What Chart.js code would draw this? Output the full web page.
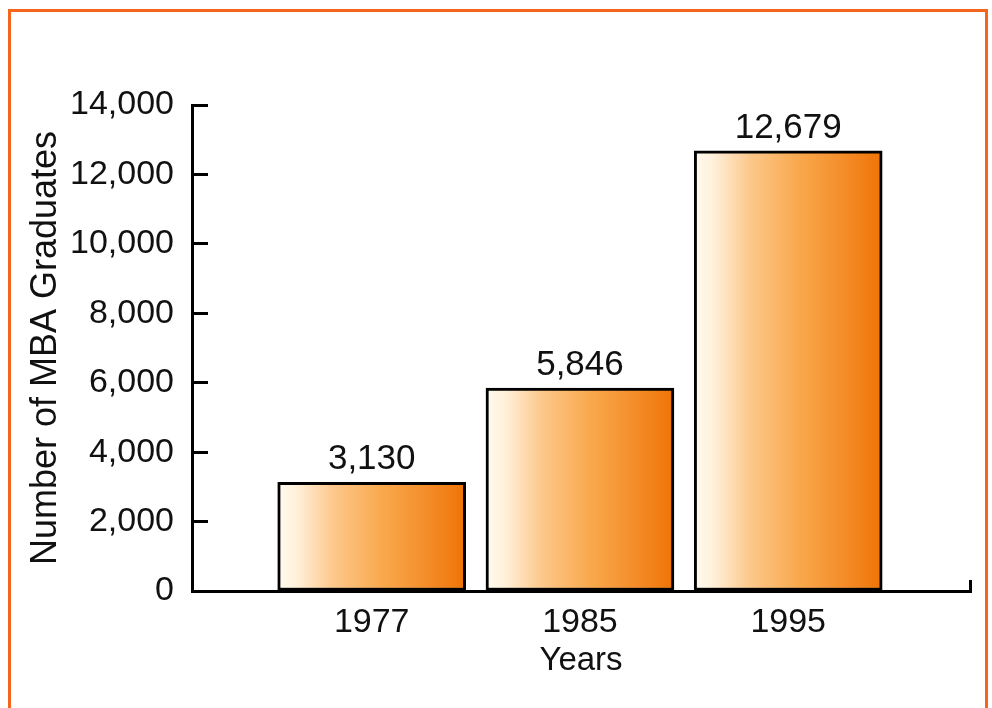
<!DOCTYPE html>
<html lang="en">
<head>
    <meta charset="UTF-8">
    <title>Number of MBA Graduates</title>
    <script src="https://cdn.jsdelivr.net/npm/chart.js"></script>
    <style>
        html, body {
            margin: 0;
            padding: 0;
            background: #fff;
        }

        /* Orange frame, open at the bottom */
        .frame {
            position: relative;
            width: 992px;
            height: 708px;
            overflow: hidden;
        }

        .frame::before {
            content: '';
            position: absolute;
            left: 8px;
            top: 9px;
            right: 4px;
            bottom: -10px;
            border: 3px solid #f4661b;
            pointer-events: none;
        }

        canvas {
            display: block;
        }
    </style>
</head>
<body>
    <div class="frame">
        <canvas id="plot" width="992" height="708"></canvas>
    </div>

    <script>
        const years = ['1977', '1985', '1995'];
        const graduates = [3130, 5846, 12679];
        const yTicks = [0, 2000, 4000, 6000, 8000, 10000, 12000, 14000];

        const FONT = '"Liberation Sans", Arial, sans-serif';

        // value printed above each bar
        const valueLabels = {
            id: 'valueLabels',
            afterDatasetsDraw(chart) {
                const ctx = chart.ctx;
                const meta = chart.getDatasetMeta(0);
                ctx.save();
                ctx.font = '35px ' + FONT;
                ctx.fillStyle = '#111';
                ctx.textAlign = 'center';
                ctx.textBaseline = 'alphabetic';
                meta.data.forEach((bar, i) => {
                    ctx.fillText(graduates[i].toLocaleString('en-US'), bar.x, bar.y - 13);
                });
                ctx.restore();
            }
        };

        // cream-to-orange fill running left to right across each bar
        function barFill(c) {
            const chart = c.chart;
            if (!chart.chartArea || c.type !== 'data') return '#f8a848';
            const cx = chart.scales.x.getPixelForValue(c.parsed.x);
            const half = 94;
            const g = chart.ctx.createLinearGradient(cx - half, 0, cx + half, 0);
            g.addColorStop(0, '#fffaf0');
            g.addColorStop(0.1, '#fff0da');
            g.addColorStop(0.3, '#fcc789');
            g.addColorStop(0.55, '#f9a94e');
            g.addColorStop(0.8, '#f48c28');
            g.addColorStop(1, '#ef7306');
            return g;
        }

        const points = years.map((y, i) => ({ x: i + 1, y: graduates[i] }));

        new Chart(document.getElementById('plot'), {
            type: 'bar',
            data: {
                datasets: [{
                    data: points,
                    backgroundColor: barFill,
                    borderColor: '#000',
                    borderWidth: 3,
                    borderSkipped: false,
                    barThickness: 188
                }]
            },
            options: {
                responsive: false,
                animation: false,
                layout: {
                    padding: { left: 20, right: 21, top: 105, bottom: 23 }
                },
                plugins: {
                    legend: { display: false },
                    tooltip: { enabled: false }
                },
                scales: {
                    x: {
                        type: 'linear',
                        offset: false,
                        min: 0.137,
                        max: 3.873,
                        afterBuildTicks: (scale) => {
                            scale.ticks = [1, 2, 3, scale.max].map(v => ({ value: v }));
                        },
                        afterFit: (scale) => { scale.height = 94; },
                        border: { display: true, color: '#000', width: 3 },
                        grid: {
                            offset: false,
                            drawOnChartArea: false,
                            tickLength: -11,
                            tickWidth: 3,
                            tickColor: (c) => c.index === years.length ? '#000' : 'rgba(0,0,0,0)'
                        },
                        ticks: {
                            autoSkip: false,
                            maxRotation: 0,
                            padding: 22,
                            color: '#111',
                            font: { family: FONT, size: 34 },
                            callback: (value, index) => years[index] || ''
                        },
                        title: {
                            display: true,
                            text: 'Years',
                            color: '#111',
                            font: { family: FONT, size: 33 },
                            padding: { top: 0, bottom: 4 }
                        }
                    },
                    y: {
                        min: 0,
                        max: 14000,
                        afterBuildTicks: (scale) => {
                            scale.ticks = yTicks.map(v => ({ value: v }));
                        },
                        afterFit: (scale) => { scale.width = 172; },
                        border: { display: true, color: '#000', width: 3 },
                        grid: {
                            drawOnChartArea: false,
                            tickLength: -16,
                            tickWidth: 3,
                            tickColor: '#000'
                        },
                        ticks: {
                            padding: 34,
                            color: '#111',
                            font: { family: FONT, size: 34 },
                            callback: (value) => value.toLocaleString('en-US')
                        },
                        title: {
                            display: true,
                            text: 'Number of MBA Graduates',
                            color: '#111',
                            font: { family: FONT, size: 36 },
                            padding: { top: 4, bottom: 4 }
                        }
                    }
                }
            },
            plugins: [valueLabels]
        });
    </script>
</body>
</html>
